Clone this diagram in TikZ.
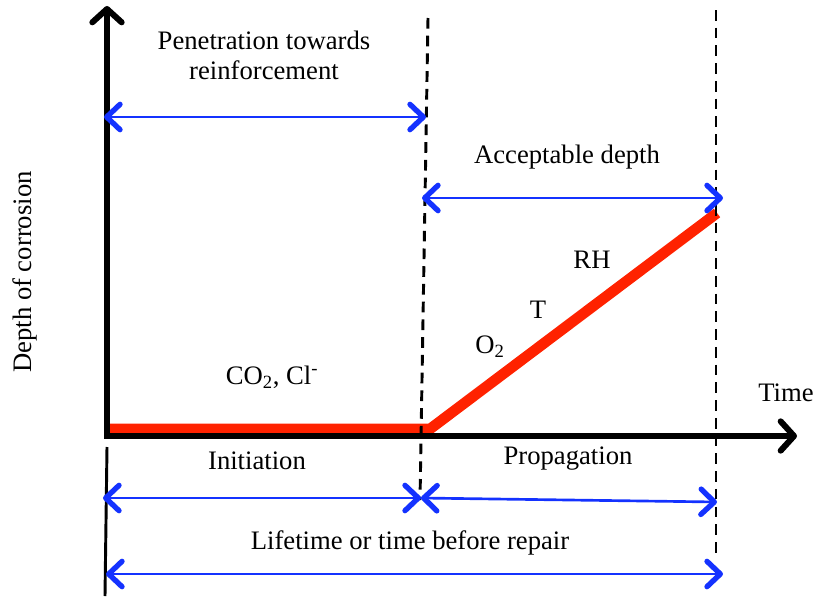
\documentclass[tikz,border=0pt]{standalone}
\usepackage{fontspec}
\setmainfont{Liberation Serif}
\usepackage{xcolor}
\usepackage{tikz}
\usetikzlibrary{arrows.meta, positioning}

\definecolor{corrred}{RGB}{255,34,0}
\definecolor{spanblue}{RGB}{20,50,255}

\begin{document}
\begin{tikzpicture}[x=0.75pt, y=-0.75pt,
    lbl/.style={font=\fontsize{20}{22.5}\selectfont, align=center},
    axis/.style={line width=4.5pt, line join=miter,
        {Straight Barb[length=10pt, width=22pt, line width=4.5pt, round]}-{Straight Barb[length=10pt, width=22pt, line width=4.5pt, round]}},
    span/.style={spanblue, line width=2pt,
        {Straight Barb[length=10pt, width=19pt, line width=4pt, round]}-{Straight Barb[length=10pt, width=19pt, line width=4pt, round]}},
    limit/.style={line width=2.2pt, dash pattern=on 8pt off 5.3pt},
    corr/.style={corrred, line width=8pt}]
    \useasboundingbox (0,0) rectangle (817,596);

    % axes and limits
    \coordinate (ytop) at (107,6);
    \coordinate (orig) at (107,436);
    \coordinate (xend) at (797,436);
    \coordinate (d1top) at (428,18);
    \coordinate (d1bot) at (420,500);
    \coordinate (d2top) at (716,10);
    \coordinate (d2bot) at (716,555);
    \coordinate (lowtop) at (107,447);
    \coordinate (lowbot) at (105,596);

    % corrosion curve
    \coordinate (c0) at (107,429);
    \coordinate (c1) at (430,429);
    \coordinate (c2) at (717,213);
    \draw[corr] (c0) -- (c1) -- (c2);

    \draw[axis] (ytop) -- (orig) -- (xend);
    \draw[limit] (d1top) -- (d1bot);
    \draw[limit] (d2top) -- (d2bot);
    \draw[line width=2.2pt] (lowtop) -- (lowbot);

    % spans
    \coordinate (p0) at (104,117);
    \coordinate (p1) at (426,117);
    \coordinate (a0) at (422,198);
    \coordinate (a1) at (723,198);
    \coordinate (i0) at (103,498);
    \coordinate (i1) at (421,498);
    \coordinate (g1) at (717,502);
    \coordinate (l0) at (106,574);
    \coordinate (l1) at (723,574);
    \draw[span] (p0) -- (p1);
    \draw[span] (a0) -- (a1);
    \draw[span] (i0) -- (i1);
    \draw[span] (i1) -- (g1);
    \draw[span] (l0) -- (l1);

    % labels
    \node[lbl] (pen) at (264,55) {Penetration towards\\reinforcement};
    \node[lbl] (acc) at (567,157) {Acceptable depth};
    \node[lbl] (rh) at (592,260) {RH};
    \node[lbl] (temp) at (538,310) {T};
    \node[lbl] (oxy) at (490,347) {O\textsubscript{2}};
    \node[lbl] (co) at (272,377) {CO\textsubscript{2}, Cl\textsuperscript{-}};
    \node[lbl] (time) at (786,393) {Time};
    \node[lbl, rotate=90] (depth) at (25,272) {Depth of corrosion};
    \node[lbl] (init) at (257,461) {Initiation};
    \node[lbl] (prop) at (568,459) {Propagation};
    \node[lbl] (life) at (410,543) {Lifetime or time before repair};
\end{tikzpicture}
\end{document}
